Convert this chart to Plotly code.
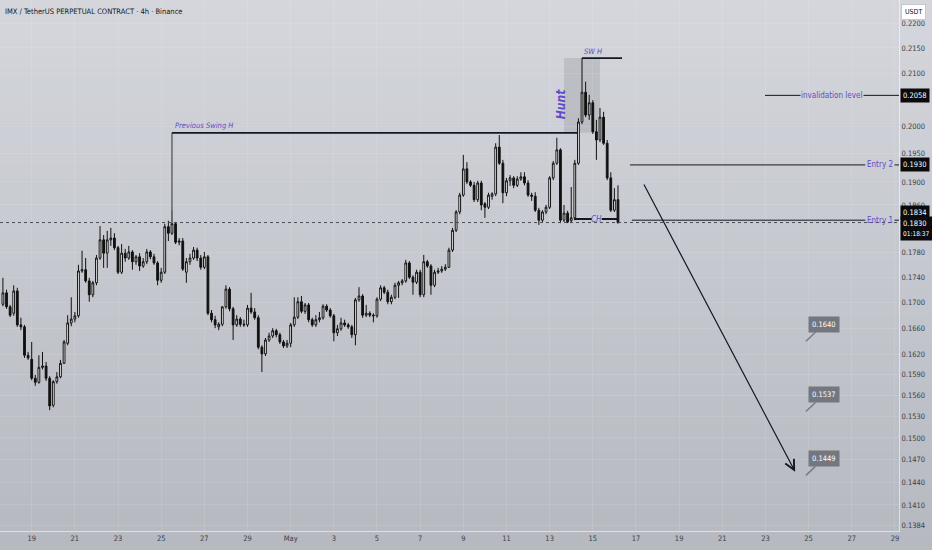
import math
import pandas as pd
import plotly.graph_objects as go

# ---------------- data ----------------
title_text = "IMX / TetherUS PERPETUAL CONTRACT · 4h · Binance"
first_candle = "2025-04-17 16:00"

opens = [0.1697,0.1715,0.1693,0.1683,0.1718,0.1665,0.1662,0.1619,0.1613,0.1585,
         0.1579,0.1601,0.1603,0.1585,0.1546,0.1580,0.1587,0.1607,0.1637,0.1668,
         0.1674,0.1679,0.1750,0.1752,0.1734,0.1712,0.1731,0.1771,0.1801,0.1779,
         0.1801,0.1804,0.1788,0.1748,0.1779,0.1771,0.1781,0.1765,0.1773,0.1758,
         0.1765,0.1781,0.1773,0.1763,0.1735,0.1748,0.1823,0.1812,0.1828,0.1797,
         0.1799,0.1748,0.1765,0.1771,0.1784,0.1771,0.1756,0.1773,0.1683,0.1673,
         0.1662,0.1666,0.1693,0.1721,0.1690,0.1665,0.1674,0.1666,0.1665,0.1691,
         0.1685,0.1676,0.1631,0.1621,0.1642,0.1648,0.1656,0.1650,0.1639,0.1633,
         0.1637,0.1665,0.1677,0.1701,0.1686,0.1696,0.1673,0.1665,0.1673,0.1676,
         0.1694,0.1688,0.1679,0.1653,0.1659,0.1668,0.1665,0.1662,0.1650,0.1704,
         0.1710,0.1680,0.1683,0.1680,0.1679,0.1705,0.1723,0.1716,0.1701,0.1708,
         0.1727,0.1731,0.1734,0.1763,0.1740,0.1732,0.1748,0.1712,0.1765,0.1758,
         0.1727,0.1748,0.1750,0.1753,0.1756,0.1784,0.1817,0.1848,0.1877,0.1923,
         0.1900,0.1894,0.1869,0.1898,0.1862,0.1856,0.1875,0.1879,0.1962,0.1933,
         0.1881,0.1902,0.1907,0.1894,0.1905,0.1909,0.1898,0.1877,0.1875,0.1851,
         0.1834,0.1848,0.1856,0.1907,0.1933,0.1957,0.1834,0.1846,0.1833,0.1838,
         0.1933,0.2008,0.2064,0.2021,0.2044,0.1990,0.1975,0.2017,0.1969,0.1907,
         0.1851,0.1869]
highs = [0.1739,0.1720,0.1696,0.1727,0.1723,0.1676,0.1665,0.1624,0.1639,0.1590,
         0.1619,0.1624,0.1609,0.1588,0.1582,0.1594,0.1612,0.1642,0.1680,0.1708,
         0.1685,0.1760,0.1783,0.1771,0.1739,0.1734,0.1776,0.1824,0.1809,0.1816,
         0.1821,0.1812,0.1791,0.1794,0.1786,0.1791,0.1784,0.1776,0.1779,0.1771,
         0.1786,0.1784,0.1778,0.1766,0.1755,0.1828,0.1833,0.1851,0.1831,0.1804,
         0.1804,0.1771,0.1778,0.1789,0.1788,0.1776,0.1781,0.1776,0.1688,0.1679,
         0.1669,0.1694,0.1727,0.1724,0.1693,0.1680,0.1677,0.1673,0.1696,0.1715,
         0.1691,0.1680,0.1634,0.1645,0.1653,0.1660,0.1659,0.1653,0.1642,0.1642,
         0.1668,0.1708,0.1708,0.1710,0.1699,0.1699,0.1676,0.1680,0.1685,0.1697,
         0.1697,0.1691,0.1682,0.1665,0.1676,0.1673,0.1668,0.1665,0.1707,0.1724,
         0.1713,0.1696,0.1686,0.1683,0.1708,0.1727,0.1726,0.1720,0.1712,0.1731,
         0.1734,0.1737,0.1768,0.1766,0.1743,0.1752,0.1752,0.1776,0.1768,0.1761,
         0.1752,0.1755,0.1758,0.1761,0.1788,0.1821,0.1851,0.1881,0.1948,0.1935,
         0.1903,0.1900,0.1902,0.1902,0.1865,0.1881,0.1882,0.1969,0.1984,0.1939,
         0.1907,0.1912,0.1910,0.1910,0.1917,0.1917,0.1903,0.1881,0.1882,0.1855,
         0.1851,0.1860,0.1910,0.1937,0.1979,0.1960,0.1860,0.1850,0.1891,0.1939,
         0.2015,0.2130,0.2084,0.2059,0.2049,0.2012,0.2034,0.2027,0.1975,0.1917,
         0.1889,0.1894]
lows = [0.1694,0.1690,0.1677,0.1679,0.1662,0.1657,0.1615,0.1612,0.1582,0.1574,
        0.1577,0.1598,0.1581,0.1539,0.1543,0.1577,0.1585,0.1606,0.1634,0.1663,
        0.1669,0.1676,0.1747,0.1731,0.1701,0.1708,0.1727,0.1768,0.1755,0.1755,
        0.1791,0.1784,0.1745,0.1745,0.1765,0.1768,0.1752,0.1760,0.1750,0.1755,
        0.1761,0.1769,0.1760,0.1727,0.1731,0.1745,0.1799,0.1809,0.1794,0.1792,
        0.1750,0.1731,0.1760,0.1768,0.1766,0.1752,0.1753,0.1680,0.1669,0.1660,
        0.1657,0.1663,0.1690,0.1686,0.1642,0.1662,0.1662,0.1662,0.1662,0.1682,
        0.1673,0.1628,0.1594,0.1618,0.1639,0.1645,0.1646,0.1636,0.1630,0.1630,
        0.1631,0.1662,0.1674,0.1683,0.1682,0.1669,0.1662,0.1662,0.1669,0.1673,
        0.1685,0.1676,0.1640,0.1648,0.1656,0.1662,0.1659,0.1645,0.1634,0.1701,
        0.1676,0.1677,0.1677,0.1669,0.1676,0.1702,0.1713,0.1697,0.1697,0.1705,
        0.1707,0.1727,0.1731,0.1737,0.1712,0.1729,0.1708,0.1708,0.1755,0.1712,
        0.1724,0.1745,0.1747,0.1750,0.1755,0.1781,0.1814,0.1844,0.1874,0.1896,
        0.1891,0.1865,0.1865,0.1851,0.1838,0.1853,0.1869,0.1875,0.1930,0.1863,
        0.1875,0.1893,0.1889,0.1891,0.1902,0.1894,0.1874,0.1867,0.1848,0.1826,
        0.1831,0.1844,0.1853,0.1903,0.1930,0.1829,0.1831,0.1829,0.1829,0.1834,
        0.1930,0.2004,0.2017,0.2012,0.1986,0.1939,0.1971,0.1966,0.1903,0.1848,
        0.1848,0.1828]
closes = [0.1715,0.1693,0.1680,0.1718,0.1665,0.1662,0.1619,0.1615,0.1585,0.1579,
          0.1601,0.1603,0.1585,0.1545,0.1580,0.1587,0.1607,0.1639,0.1668,0.1674,
          0.1679,0.1750,0.1752,0.1734,0.1712,0.1731,0.1771,0.1801,0.1779,0.1801,
          0.1804,0.1788,0.1748,0.1779,0.1771,0.1781,0.1765,0.1773,0.1758,0.1765,
          0.1781,0.1773,0.1763,0.1735,0.1748,0.1823,0.1812,0.1828,0.1797,0.1799,
          0.1753,0.1765,0.1771,0.1784,0.1771,0.1756,0.1773,0.1683,0.1673,0.1665,
          0.1666,0.1693,0.1721,0.1690,0.1665,0.1674,0.1666,0.1665,0.1691,0.1685,
          0.1676,0.1631,0.1621,0.1642,0.1648,0.1656,0.1650,0.1639,0.1633,0.1637,
          0.1665,0.1677,0.1701,0.1686,0.1696,0.1673,0.1665,0.1673,0.1676,0.1694,
          0.1688,0.1679,0.1653,0.1659,0.1668,0.1665,0.1662,0.1650,0.1704,0.1710,
          0.1680,0.1683,0.1680,0.1679,0.1705,0.1723,0.1716,0.1701,0.1708,0.1727,
          0.1731,0.1734,0.1763,0.1740,0.1732,0.1748,0.1712,0.1765,0.1758,0.1727,
          0.1748,0.1750,0.1753,0.1756,0.1784,0.1817,0.1848,0.1877,0.1923,0.1900,
          0.1894,0.1869,0.1898,0.1860,0.1856,0.1877,0.1879,0.1962,0.1933,0.1881,
          0.1902,0.1907,0.1894,0.1905,0.1909,0.1898,0.1877,0.1875,0.1851,0.1834,
          0.1848,0.1856,0.1907,0.1933,0.1957,0.1834,0.1846,0.1831,0.1838,0.1933,
          0.2008,0.2064,0.2021,0.2044,0.1990,0.1975,0.2017,0.1969,0.1907,0.1851,
          0.1869,0.1830]

y_tick_values = [0.2200,0.2150,0.2100,0.2000,0.1950,0.1900,0.1860,0.1780,0.1740,
                 0.1700,0.1660,0.1620,0.1590,0.1560,0.1530,0.1500,0.1470,0.1440,
                 0.1410,0.1384]
x_tick_dates = ["2025-04-19","2025-04-21","2025-04-23","2025-04-25","2025-04-27",
                "2025-04-29","2025-05-01","2025-05-03","2025-05-05","2025-05-07",
                "2025-05-09","2025-05-11","2025-05-13","2025-05-15","2025-05-17",
                "2025-05-19","2025-05-21","2025-05-23","2025-05-25","2025-05-27",
                "2025-05-29"]
x_tick_labels = ["19","21","23","25","27","29","May","3","5","7","9","11","13",
                 "15","17","19","21","23","25","27","29"]

last_price = 0.1830
countdown = "01:18:37"
entry1 = 0.1834
entry2 = 0.1930
invalidation = 0.2058
prev_swing_high = 0.1988
prev_swing_candle_high = 0.1851
sw_high = 0.2130
ch_level = 0.1836
targets = [0.1640, 0.1537, 0.1449]
arrow_start = ("2025-05-17 08:00", 0.1898)
arrow_end = ("2025-05-24 09:00", 0.1454)

# ---------------- styling ----------------
FONT = "Liberation Sans Narrow, DejaVu Sans Condensed, Arial Narrow, sans-serif"
PURPLE = "#5e4bc9"
DARK = "#131722"
TXT = "#3b3f4a"
W, H = 932, 550
ML, MR, MT, MB = 0, 33, 0, 19

times = pd.date_range(first_candle, periods=len(closes), freq="4h")
x_range = ["2025-04-17 12:45", "2025-05-29 04:31"]
y_range = [math.log10(0.13765), math.log10(0.22474)]

fig = go.Figure()
fig.add_trace(go.Candlestick(
    x=times, open=opens, high=highs, low=lows, close=closes,
    increasing=dict(line=dict(color="#111111", width=1), fillcolor="#ffffff"),
    decreasing=dict(line=dict(color="#111111", width=1), fillcolor="#111111"),
    whiskerwidth=0, showlegend=False, hoverinfo="skip"))

shapes = []
# background gradient
top_c = (212, 214, 220)
bot_c = (182, 185, 192)
n = 40
y_lo = -MB / (H - MT - MB)
for k in range(n):
    t = k / (n - 1)
    c = tuple(int(round(bot_c[j] + (top_c[j] - bot_c[j]) * t)) for j in range(3))
    y0 = y_lo + (1 - y_lo) * k / n
    y1 = y_lo + (1 - y_lo) * (k + 1) / n + 0.002
    shapes.append(dict(type="rect", xref="paper", yref="paper", x0=0, x1=1.1,
                       y0=y0, y1=y1, fillcolor="rgb(%d,%d,%d)" % c,
                       line=dict(width=0), layer="below"))

def hline(x0, x1, y, color=DARK, width=1, dash="solid", xref="x"):
    shapes.append(dict(type="line", xref=xref, yref="y", x0=x0, x1=x1, y0=y, y1=y,
                       line=dict(color=color, width=width, dash=dash)))

# current price dotted line
hline(0, 1, last_price, color="#4a4d55", width=1, dash="dot", xref="paper")
# Previous swing high
hline(times[47], "2025-05-14 06:30", prev_swing_high, width=1.6)
shapes.append(dict(type="line", xref="x", yref="y", x0=times[47], x1=times[47],
                   y0=prev_swing_high, y1=prev_swing_candle_high,
                   line=dict(color="#333333", width=1)))
# Hunt box
shapes.append(dict(type="rect", xref="x", yref="y", x0="2025-05-13 16:00",
                   x1="2025-05-15 08:00", y0=prev_swing_high, y1=sw_high,
                   fillcolor="rgba(140,140,146,0.28)", line=dict(width=0), layer="below"))
# SW H
hline(times[161], "2025-05-16 08:30", sw_high, width=1.6)
# CH
hline("2025-05-14 03:00", "2025-05-14 23:00", ch_level, width=2)
hline("2025-05-15 10:00", "2025-05-16 03:00", ch_level, width=2)
# entries / invalidation
hline("2025-05-16 17:20", "2025-05-27 15:00", entry2, width=1)
hline("2025-05-28 23:30", x_range[1], entry2, width=1)
hline("2025-05-16 19:30", "2025-05-27 15:00", entry1, width=1)
hline("2025-05-28 23:30", x_range[1], entry1, width=1)
hline("2025-05-22 23:30", "2025-05-24 15:00", invalidation, width=1)
hline("2025-05-27 13:00", x_range[1], invalidation, width=1)

ann = []
ann.append(dict(xref="paper", yref="paper", x=0, y=1, xanchor="left", yanchor="top",
                xshift=3, yshift=-5, text=title_text, showarrow=False,
                font=dict(family=FONT, size=7.5, color=DARK)))
ann.append(dict(xref="x", yref="y", x=times[47], y=math.log10(prev_swing_high),
                xanchor="left", yanchor="bottom", xshift=1, yshift=1,
                text="Previous Swing H", showarrow=False,
                font=dict(family=FONT, size=7.5, color=PURPLE, style="italic")))
ann.append(dict(xref="x", yref="y", x="2025-05-13 12:00", y=math.log10(0.2042),
                text="<b>Hunt</b>", textangle=-90, showarrow=False,
                font=dict(family=FONT, size=12, color=PURPLE, style="italic")))
ann.append(dict(xref="x", yref="y", x="2025-05-15 00:00", y=math.log10(sw_high),
                yanchor="bottom", yshift=0, text="SW H", showarrow=False,
                font=dict(family=FONT, size=7.5, color=PURPLE, style="italic")))
ann.append(dict(xref="x", yref="y", x="2025-05-15 04:30", y=math.log10(ch_level),
                text="CH", showarrow=False,
                font=dict(family=FONT, size=8, color=PURPLE, style="italic")))
ann.append(dict(xref="x", yref="y", x="2025-05-28 07:00", y=math.log10(entry2),
                text="Entry 2", showarrow=False,
                font=dict(family=FONT, size=8, color=PURPLE)))
ann.append(dict(xref="x", yref="y", x="2025-05-28 07:00", y=math.log10(entry1),
                text="Entry 1", showarrow=False,
                font=dict(family=FONT, size=8, color=PURPLE)))
ann.append(dict(xref="x", yref="y", x="2025-05-26 02:00", y=math.log10(invalidation),
                text="invalidation level", showarrow=False,
                font=dict(family=FONT, size=8, color=PURPLE)))
# big arrow
ann.append(dict(xref="x", yref="y", axref="x", ayref="y",
                x=arrow_end[0], y=math.log10(arrow_end[1]),
                ax=arrow_start[0], ay=math.log10(arrow_start[1]),
                text="", showarrow=True, arrowhead=5, arrowsize=1.6,
                arrowwidth=1.2, arrowcolor=DARK, standoff=0))
# target callouts
for tv in targets:
    ann.append(dict(xref="x", yref="y", x="2025-05-24 21:00", y=math.log10(tv),
                    ax=18, ay=-17, text="%.4f" % tv, showarrow=True, arrowhead=0,
                    arrowwidth=1.6, arrowcolor="#7a7d85", bgcolor="#74777f",
                    borderpad=3, font=dict(family=FONT, size=7.5, color="#ffffff")))
# price axis labels
def axis_label(val, text, yshift=0):
    ann.append(dict(xref="paper", yref="y", x=1, y=math.log10(val), xanchor="left",
                    xshift=1, yshift=yshift, text=text, showarrow=False,
                    bgcolor="#0b0b0d", borderpad=2, align="left",
                    font=dict(family=FONT, size=7.5, color="#ffffff")))
axis_label(invalidation, "%.4f" % invalidation)
axis_label(entry2, "%.4f" % entry2)
axis_label(entry1, "%.4f" % entry1, yshift=8)
axis_label(last_price, "%.4f<br><span style='font-size:6.5px'>%s</span>" % (last_price, countdown),
           yshift=-6)
ann.append(dict(xref="paper", yref="paper", x=1, y=1, xanchor="left", yanchor="top",
                xshift=2, yshift=-4, text="USDT", showarrow=False, bgcolor="#ffffff",
                bordercolor="#c4c7ce", borderwidth=1, borderpad=3,
                font=dict(family=FONT, size=7, color=DARK)))

fig.update_layout(
    width=W, height=H, margin=dict(l=ML, r=MR, t=MT, b=MB, autoexpand=False),
    paper_bgcolor="#c4c7cd", plot_bgcolor="rgba(0,0,0,0)",
    shapes=shapes, annotations=ann, showlegend=False,
    xaxis=dict(type="date", range=x_range, rangeslider=dict(visible=False),
               tickvals=x_tick_dates, ticktext=x_tick_labels, ticks="",
               showgrid=True, gridcolor="rgba(255,255,255,0.10)", zeroline=False,
               showline=True, linecolor="rgba(255,255,255,0.55)", linewidth=1,
               tickfont=dict(family=FONT, size=7.5, color=TXT)),
    yaxis=dict(type="log", side="right", range=y_range, tickvals=y_tick_values,
               ticktext=["%.4f" % v for v in y_tick_values], ticks="",
               showgrid=True, gridcolor="rgba(255,255,255,0.10)", zeroline=False,
               showline=True, linecolor="rgba(255,255,255,0.55)", linewidth=1,
               tickfont=dict(family=FONT, size=7.5, color=TXT)),
)

fig.write_html("out.html", config={"displayModeBar": False})
# remove the default page margin so the 932x550 figure fills the window exactly
with open("out.html", "r", encoding="utf-8") as fh:
    page = fh.read()
page = page.replace("<head>", "<head><style>html,body{margin:0;padding:0;overflow:hidden;}</style>", 1)
with open("out.html", "w", encoding="utf-8") as fh:
    fh.write(page)
